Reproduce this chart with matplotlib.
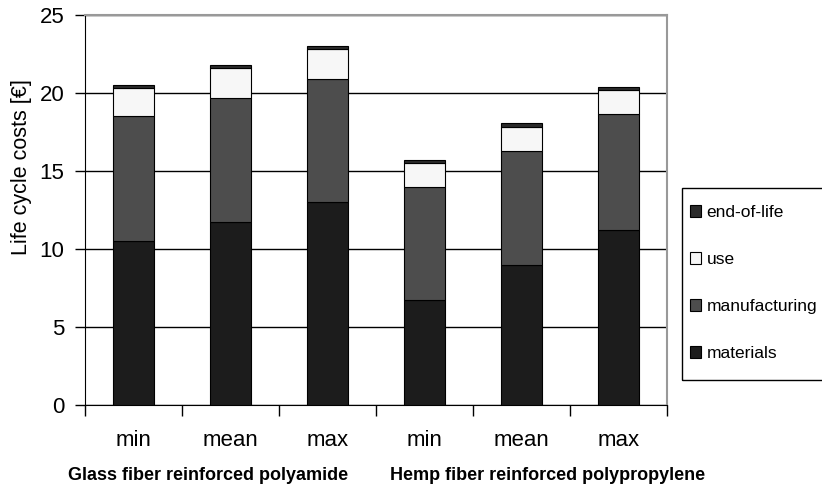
import numpy as np
import matplotlib.pyplot as plt
from matplotlib.patches import Rectangle

plt.rcParams['font.family'] = ['Liberation Sans', 'DejaVu Sans']

# data
labels = ["min", "mean", "max", "min", "mean", "max"]
groups = ["Glass fiber reinforced polyamide", "Hemp fiber reinforced polypropylene"]
materials = [10.5, 11.7, 13.0, 6.7, 9.0, 11.2]
manufacturing = [8.0, 8.0, 7.9, 7.3, 7.3, 7.45]
use = [1.8, 1.9, 1.9, 1.5, 1.55, 1.55]
end_of_life = [0.2, 0.2, 0.2, 0.2, 0.25, 0.2]

series = [("materials", materials, "#1c1c1c"),
          ("manufacturing", manufacturing, "#4d4d4d"),
          ("use", use, "#f7f7f7"),
          ("end-of-life", end_of_life, "#2b2b2b")]

W, H = 822, 487
fig = plt.figure(figsize=(W / 100, H / 100), dpi=100)
ax = fig.add_axes([85 / W, 82 / H, 582 / W, 390 / H])

x = np.arange(len(labels))
bottom = np.zeros(len(labels))
handles = []
for name, vals, col in series:
    b = ax.bar(x, vals, 0.42, bottom=bottom, color=col, edgecolor="black",
               linewidth=0.8, label=name, zorder=3)
    handles.append(b)
    bottom += np.array(vals)

ax.set_xlim(-0.5, 5.5)
ax.set_ylim(0, 25)
ax.set_yticks([0, 5, 10, 15, 20, 25])
ax.yaxis.grid(True, color="black", linewidth=1)
ax.set_axisbelow(True)

# ticks between categories, labels centred under bars
ax.set_xticks(np.arange(-0.5, 6, 1))
ax.set_xticklabels([])
ax.set_xticks(x, minor=True)
ax.set_xticklabels(labels, minor=True, fontsize=16)
ax.tick_params(axis="x", which="minor", length=0, pad=18)
ax.tick_params(axis="x", which="major", length=8, direction="out", width=1)
ax.tick_params(axis="y", labelsize=16, length=7, width=1, pad=8)

ax.spines["top"].set_color("#999999")
ax.spines["right"].set_color("#999999")
ax.spines["top"].set_linewidth(1.5)
ax.spines["right"].set_linewidth(1.5)

ax.set_ylabel("Life cycle costs [€]", fontsize=15.5)
ax.yaxis.set_label_coords(-0.091, 0.61)

ax.text(0.77, -0.18, groups[0], transform=ax.get_xaxis_transform(),
        ha="center", va="center", fontsize=13, fontweight="bold")
ax.text(4.27, -0.18, groups[1], transform=ax.get_xaxis_transform(),
        ha="center", va="center", fontsize=13, fontweight="bold")

# legend box drawn separately so the padding can differ per side
fig.patches.append(Rectangle((682 / W, 1 - 380 / H), 160 / W, 192 / H,
                             transform=fig.transFigure, fill=False,
                             edgecolor="black", linewidth=1))
ax.legend(handles[::-1], [s[0] for s in series][::-1],
          loc="upper left", bbox_to_anchor=(690 / W, 1 - 205 / H),
          bbox_transform=fig.transFigure, frameon=False,
          fontsize=12.5, handlelength=0.65, handleheight=0.65,
          labelspacing=1.85, borderpad=0, handletextpad=0.3,
          borderaxespad=0)

fig.savefig("out.png", dpi=100)
